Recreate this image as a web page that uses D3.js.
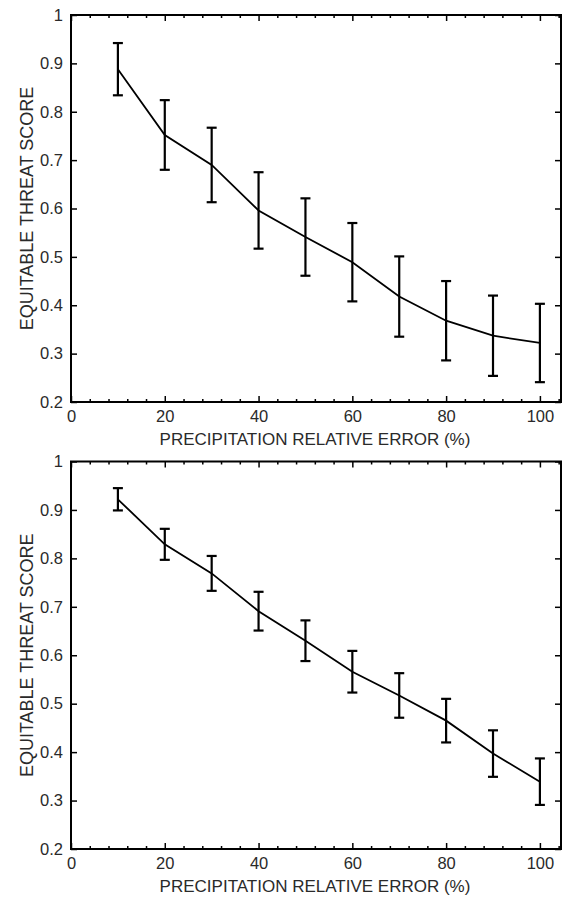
<!DOCTYPE html>
<html>
<head>
<meta charset="utf-8">
<script src="https://cdn.jsdelivr.net/npm/d3@7"></script>
<style>
  body { margin: 0; background: #fff; }
  text { font-family: "Liberation Sans", Arial, sans-serif; fill: #2a2a2a; }
</style>
</head>
<body>
<div id="chart"></div>
<script>
// Data
var errors = [10, 20, 30, 40, 50, 60, 70, 80, 90, 100];

// top panel
var etsTop   = [0.888, 0.752, 0.690, 0.596, 0.541, 0.489, 0.418, 0.368, 0.337, 0.322];
var spreadTop = [0.054, 0.072, 0.077, 0.079, 0.080, 0.081, 0.083, 0.082, 0.083, 0.081];

// bottom panel
var etsBottom   = [0.922, 0.829, 0.769, 0.691, 0.630, 0.566, 0.517, 0.465, 0.397, 0.339];
var spreadBottom = [0.023, 0.032, 0.036, 0.040, 0.042, 0.043, 0.046, 0.045, 0.048, 0.048];

var xTicks = [0, 20, 40, 60, 80, 100];
var yTicks = [0.2, 0.3, 0.4, 0.5, 0.6, 0.7, 0.8, 0.9, 1];

var xLabel = "PRECIPITATION RELATIVE ERROR (%)";
var yLabel = "EQUITABLE THREAT SCORE";

var width = 566, height = 897;

var svg = d3.select("#chart")
            .append("svg")
            .attr("width", width)
            .attr("height", height);

// draw one panel between top and bottom pixel rows
function panel(ets, spread, top, bottom) {
  var left = 71, right = 561;

  var xScale = d3.scaleLinear()
                 .domain([0, 104.5])
                 .range([left, right]);

  var yScale = d3.scaleLinear()
                 .domain([0.2, 1])
                 .range([bottom, top]);

  var minorX = d3.range(0, 105, 4).filter(function(d) { return d % 20 !== 0; });

  var g = svg.append("g");

  // minor ticks, bottom and top
  g.append("g")
   .attr("transform", "translate(0," + bottom + ")")
   .call(d3.axisBottom(xScale).tickValues(minorX).tickSize(-3).tickFormat(""))
   .call(function(a) { a.select(".domain").remove(); });
  g.append("g")
   .attr("transform", "translate(0," + top + ")")
   .call(d3.axisTop(xScale).tickValues(minorX).tickSize(-3).tickFormat(""))
   .call(function(a) { a.select(".domain").remove(); });

  // major ticks
  g.append("g")
   .attr("class", "x-axis")
   .attr("transform", "translate(0," + bottom + ")")
   .call(d3.axisBottom(xScale).tickValues(xTicks).tickSize(-6).tickPadding(8))
   .call(function(a) { a.select(".domain").remove(); });
  g.append("g")
   .attr("transform", "translate(0," + top + ")")
   .call(d3.axisTop(xScale).tickValues(xTicks).tickSize(-6).tickFormat(""))
   .call(function(a) { a.select(".domain").remove(); });

  g.append("g")
   .attr("class", "y-axis")
   .attr("transform", "translate(" + left + ",0)")
   .call(d3.axisLeft(yScale).tickValues(yTicks).tickSize(-6).tickPadding(8)
           .tickFormat(function(d) { return d === 1 ? "1" : d.toFixed(1); }))
   .call(function(a) { a.select(".domain").remove(); });
  g.append("g")
   .attr("transform", "translate(" + right + ",0)")
   .call(d3.axisRight(yScale).tickValues(yTicks).tickSize(-6).tickFormat(""))
   .call(function(a) { a.select(".domain").remove(); });

  g.selectAll(".tick line").attr("stroke", "#000").attr("stroke-width", 1.5);
  g.selectAll(".tick text")
   .attr("fill", "#333")
   .style("font-size", "16.5px")
   .style("font-family", "'Liberation Sans', Arial, sans-serif");

  // box
  g.append("rect")
   .attr("x", left).attr("y", top)
   .attr("width", right - left).attr("height", bottom - top)
   .attr("fill", "none").attr("stroke", "#000").attr("stroke-width", 2);

  var data = errors.map(function(e, i) {
    return { x: e, y: ets[i], s: spread[i] };
  });

  // error bars
  var bars = g.append("g").selectAll("g").data(data).enter().append("g");
  bars.append("line")
      .attr("x1", function(d) { return xScale(d.x); })
      .attr("x2", function(d) { return xScale(d.x); })
      .attr("y1", function(d) { return yScale(d.y + d.s); })
      .attr("y2", function(d) { return yScale(d.y - d.s); });
  bars.append("line")
      .attr("x1", function(d) { return xScale(d.x) - 5; })
      .attr("x2", function(d) { return xScale(d.x) + 5; })
      .attr("y1", function(d) { return yScale(d.y + d.s); })
      .attr("y2", function(d) { return yScale(d.y + d.s); });
  bars.append("line")
      .attr("x1", function(d) { return xScale(d.x) - 5; })
      .attr("x2", function(d) { return xScale(d.x) + 5; })
      .attr("y1", function(d) { return yScale(d.y - d.s); })
      .attr("y2", function(d) { return yScale(d.y - d.s); });
  bars.selectAll("line").attr("stroke", "#000").attr("stroke-width", 2.2);

  // mean line
  var line = d3.line()
               .x(function(d) { return xScale(d.x); })
               .y(function(d) { return yScale(d.y); });

  g.append("path")
   .datum(data)
   .attr("d", line)
   .attr("fill", "none")
   .attr("stroke", "#000")
   .attr("stroke-width", 1.8);

  // axis titles
  g.append("text")
   .attr("x", (left + right) / 2 - 1)
   .attr("y", bottom + 43)
   .attr("text-anchor", "middle")
   .style("font-size", "17px")
   .text(xLabel);

  g.append("text")
   .attr("transform", "translate(33," + (top + bottom) / 2 + ") rotate(-90)")
   .attr("text-anchor", "middle")
   .style("font-size", "18px")
   .text(yLabel);
}

panel(etsTop, spreadTop, 15, 402);
panel(etsBottom, spreadBottom, 461.5, 849);
</script>
</body>
</html>
